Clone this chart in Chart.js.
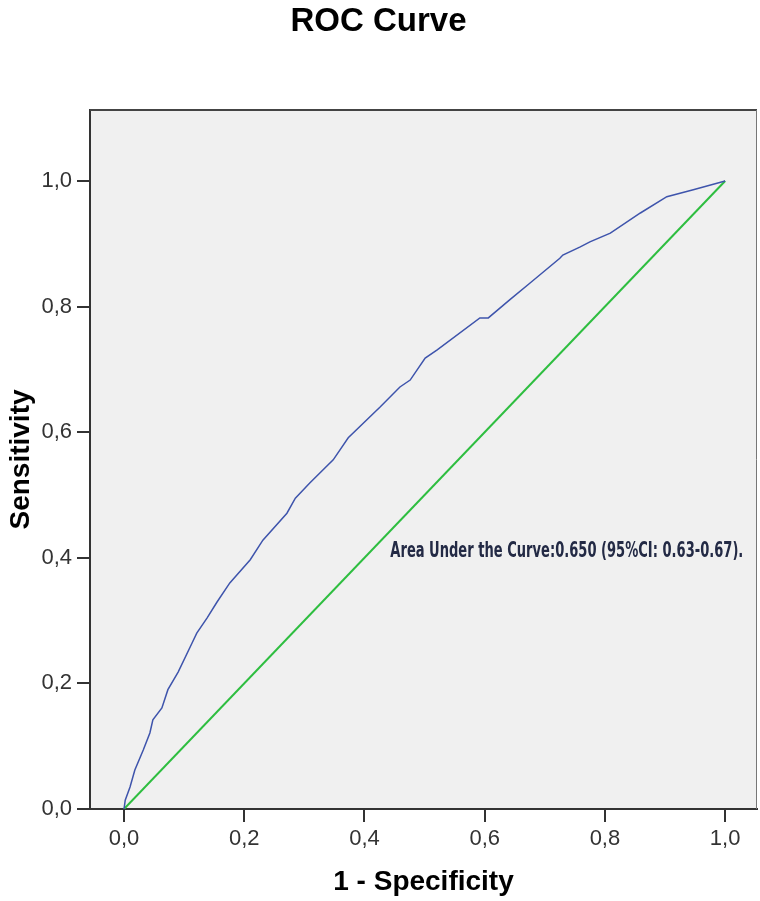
<!DOCTYPE html>
<html>
<head>
<meta charset="utf-8">
<script src="https://cdn.jsdelivr.net/npm/chart.js@4.4.1/dist/chart.umd.min.js"></script>
<style>
  html, body { margin: 0; padding: 0; background: #fff; }
  #wrap { width: 760px; height: 901px; }
</style>
</head>
<body>
<div id="wrap"><canvas id="rocChart" width="760" height="901"></canvas></div>
<script>
// ROC curve (1 - specificity, sensitivity)
const fpr = [0, 0.002, 0.01, 0.018, 0.032, 0.043, 0.048, 0.063, 0.073, 0.09,
  0.113, 0.121, 0.138, 0.155, 0.176, 0.21, 0.231, 0.271, 0.285, 0.309,
  0.348, 0.373, 0.426, 0.459, 0.476, 0.501, 0.521, 0.592, 0.606, 0.642,
  0.676, 0.725, 0.73, 0.759, 0.775, 0.809, 0.859, 0.903, 0.947, 1];
const tpr = [0, 0.014, 0.035, 0.062, 0.094, 0.121, 0.142, 0.161, 0.19, 0.218,
  0.264, 0.28, 0.304, 0.33, 0.36, 0.397, 0.428, 0.471, 0.495, 0.519,
  0.556, 0.591, 0.64, 0.672, 0.683, 0.718, 0.731, 0.782, 0.782, 0.811,
  0.838, 0.877, 0.882, 0.895, 0.903, 0.917, 0.949, 0.975, 0.986, 1];

// reference line
const refX = [0, 1];
const refY = [0, 1];

const xTicks = [0, 0.2, 0.4, 0.6, 0.8, 1.0];
const yTicks = [0, 0.2, 0.4, 0.6, 0.8, 1.0];

const aucText = 'Area Under the Curve:0.650 (95%CI: 0.63-0.67).';
const aucPos = { x: 0.443, y: 0.401 };

const fmt = v => v.toFixed(1).replace('.', ',');
const tickFont = { family: '"Liberation Sans", Arial, sans-serif', size: 22 };

const plotBg = {
  id: 'plotBg',
  beforeDraw(chart) {
    const { ctx, chartArea: a } = chart;
    ctx.save();
    ctx.fillStyle = '#ffffff';
    ctx.fillRect(0, 0, chart.width, chart.height);
    ctx.fillStyle = '#f0f0f0';
    ctx.fillRect(a.left, a.top, a.right - a.left, a.bottom - a.top);
    ctx.restore();
  },
  afterDraw(chart) {
    const { ctx, chartArea: a, scales } = chart;
    ctx.save();
    ctx.strokeStyle = '#444';
    ctx.lineWidth = 2;
    ctx.beginPath();
    ctx.moveTo(a.left, a.top);
    ctx.lineTo(a.right, a.top);
    ctx.stroke();
    ctx.strokeStyle = '#777';
    ctx.lineWidth = 1;
    ctx.beginPath();
    ctx.moveTo(a.right - 0.5, a.top);
    ctx.lineTo(a.right - 0.5, a.bottom);
    ctx.stroke();

    // AUC note, squeezed to the narrow look of the original
    const px = scales.x.getPixelForValue(aucPos.x);
    const py = scales.y.getPixelForValue(aucPos.y);
    ctx.font = '600 22px "DejaVu Sans Condensed", "DejaVu Sans", sans-serif';
    ctx.fillStyle = '#232a45';
    ctx.textBaseline = 'alphabetic';
    const w = ctx.measureText(aucText).width;
    const sx = 353 / w;
    ctx.translate(px, py);
    ctx.scale(sx, 1);
    ctx.fillText(aucText, 0, 0);
    ctx.restore();
  }
};

new Chart(document.getElementById('rocChart'), {
  type: 'line',
  data: {
    datasets: [
      {
        label: 'ROC',
        data: fpr.map((x, i) => ({ x: x, y: tpr[i] })),
        borderColor: 'rgb(62, 84, 172)',
        borderWidth: 1.5,
        pointRadius: 0,
        tension: 0
      },
      {
        label: 'Reference',
        data: refX.map((x, i) => ({ x: x, y: refY[i] })),
        borderColor: 'rgb(46, 190, 64)',
        borderWidth: 2,
        pointRadius: 0,
        tension: 0
      }
    ]
  },
  options: {
    responsive: false,
    animation: false,
    layout: { padding: { left: 0, right: 3, top: 0, bottom: 0 } },
    plugins: {
      legend: { display: false },
      tooltip: { enabled: false },
      title: {
        display: true,
        text: 'ROC Curve',
        color: '#000',
        font: { family: '"Liberation Sans", Arial, sans-serif', size: 33, weight: 'bold' },
        padding: { top: 2, bottom: 68.4 }
      }
    },
    scales: {
      x: {
        type: 'linear',
        min: -0.0566,
        max: 1.053,
        afterBuildTicks: s => { s.ticks = xTicks.map(v => ({ value: v })); },
        afterFit: s => { s.height = 92; },
        ticks: { color: '#333', font: tickFont, padding: 4, callback: v => fmt(v), maxRotation: 0 },
        grid: { drawOnChartArea: false, drawTicks: true, tickLength: 13, color: '#333', lineWidth: 2 },
        border: { display: true, color: '#333', width: 2 },
        title: {
          display: true,
          text: '1 - Specificity',
          color: '#000',
          font: { family: '"Liberation Sans", Arial, sans-serif', size: 28, weight: 'bold' },
          padding: { top: 0, bottom: 2 }
        }
      },
      y: {
        type: 'linear',
        min: 0,
        max: 1.113,
        afterBuildTicks: s => { s.ticks = yTicks.map(v => ({ value: v })); },
        afterFit: s => { s.width = 90; },
        ticks: { color: '#333', font: tickFont, padding: 5, callback: v => fmt(v) },
        grid: { drawOnChartArea: false, drawTicks: true, tickLength: 13, color: '#333', lineWidth: 2 },
        border: { display: true, color: '#333', width: 2 },
        title: {
          display: true,
          text: 'Sensitivity',
          color: '#000',
          font: { family: '"Liberation Sans", Arial, sans-serif', size: 28, weight: 'bold' },
          padding: { top: 4, bottom: 0 }
        }
      }
    }
  },
  plugins: [plotBg]
});
</script>
</body>
</html>
